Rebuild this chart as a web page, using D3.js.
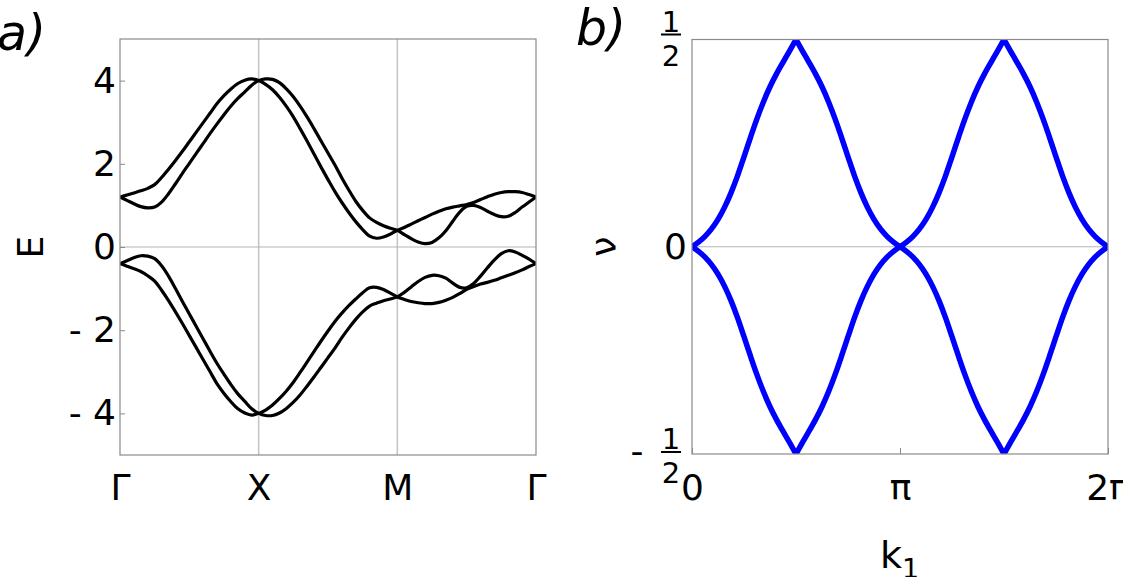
<!DOCTYPE html>
<html><head><meta charset="utf-8">
<script src="https://cdn.jsdelivr.net/npm/d3@7"></script>
<style>
body{margin:0;background:#fff}
svg{display:block}
text{font-family:"DejaVu Sans",sans-serif;fill:#000}
</style>
</head><body>
<svg id="c" width="1123" height="577"></svg>
<script>
// ---------- Panel a data: band structure along Γ–X–M–Γ ----------
const pathPos = [0,0.05,0.1,0.15,0.2,0.25,0.3,0.35,0.4,0.45,0.5,0.55,0.6,0.65,0.7,0.75,0.8,0.85,0.9,0.95,1,
  1.05,1.1,1.15,1.2,1.25,1.3,1.35,1.4,1.45,1.5,1.55,1.6,1.65,1.7,1.75,1.8,1.85,1.9,1.95,2,
  2.05,2.1,2.15,2.2,2.25,2.3,2.35,2.4,2.45,2.5,2.55,2.6,2.65,2.7,2.75,2.8,2.85,2.9,2.95,3];
const bandUpperA = [1.20,1.25,1.30,1.35,1.41,1.50,1.67,1.87,2.08,2.30,2.53,2.76,2.99,3.22,3.45,3.64,3.80,3.93,4.01,4.04,4.00,
  3.91,3.78,3.60,3.38,3.13,2.84,2.54,2.23,1.92,1.62,1.33,1.07,0.83,0.61,0.42,0.26,0.21,0.24,0.31,0.40,
  0.47,0.55,0.63,0.71,0.79,0.86,0.92,0.96,0.99,1.02,1.07,1.14,1.21,1.27,1.31,1.33,1.33,1.31,1.26,1.20];
const bandUpperB = [1.20,1.12,1.04,0.97,0.94,0.96,1.08,1.28,1.52,1.77,2.01,2.25,2.49,2.73,2.96,3.18,3.39,3.57,3.73,3.89,4.00,
  4.04,4.03,3.95,3.80,3.61,3.38,3.12,2.84,2.55,2.26,1.97,1.66,1.37,1.10,0.88,0.70,0.59,0.51,0.45,0.40,
  0.30,0.20,0.12,0.08,0.11,0.22,0.39,0.62,0.84,0.98,1.00,0.95,0.86,0.78,0.73,0.74,0.83,0.96,1.08,1.20];
const bandLowerA = [-0.40,-0.46,-0.52,-0.59,-0.69,-0.82,-1.04,-1.29,-1.56,-1.84,-2.13,-2.42,-2.71,-3.00,-3.29,-3.52,-3.72,-3.89,-3.99,-4.04,-4.00,
  -3.92,-3.80,-3.64,-3.46,-3.25,-3.01,-2.76,-2.51,-2.26,-2.02,-1.79,-1.59,-1.41,-1.25,-1.10,-0.98,-0.97,-1.02,-1.11,-1.20,
  -1.26,-1.31,-1.34,-1.36,-1.36,-1.33,-1.28,-1.21,-1.12,-1.02,-0.95,-0.89,-0.85,-0.80,-0.74,-0.68,-0.62,-0.55,-0.47,-0.40];
const bandLowerB = [-0.40,-0.33,-0.26,-0.21,-0.22,-0.28,-0.45,-0.70,-1.00,-1.31,-1.61,-1.91,-2.21,-2.51,-2.80,-3.06,-3.31,-3.53,-3.71,-3.89,-4.00,
  -4.05,-4.05,-3.99,-3.88,-3.73,-3.55,-3.34,-3.12,-2.89,-2.66,-2.43,-2.18,-1.95,-1.74,-1.56,-1.42,-1.35,-1.29,-1.25,-1.20,
  -1.09,-0.96,-0.83,-0.73,-0.68,-0.69,-0.75,-0.87,-0.97,-0.98,-0.88,-0.70,-0.50,-0.31,-0.16,-0.09,-0.12,-0.20,-0.29,-0.40];
const pathTicks = [0,1,2,3];
const pathLabels = ["Γ","X","M","Γ"];
const eTicks = [4,2,0,-2,-4];
const eTickLabels = ["4","2","0","- 2","- 4"];

// ---------- Panel b data: ν versus k1 (k1 in units of π) ----------
const kOverPi = [0,0.03125,0.0625,0.09375,0.125,0.15625,0.1875,0.21875,0.25,0.28125,0.3125,0.34375,0.375,0.40625,0.4375,0.46875,0.5,
  0.53125,0.5625,0.59375,0.625,0.65625,0.6875,0.71875,0.75,0.78125,0.8125,0.84375,0.875,0.90625,0.9375,0.96875,1,
  1.03125,1.0625,1.09375,1.125,1.15625,1.1875,1.21875,1.25,1.28125,1.3125,1.34375,1.375,1.40625,1.4375,1.46875,1.5,
  1.53125,1.5625,1.59375,1.625,1.65625,1.6875,1.71875,1.75,1.78125,1.8125,1.84375,1.875,1.90625,1.9375,1.96875,2];
const nuUpper = [0,0.011,0.025,0.043,0.066,0.095,0.130,0.171,0.217,0.264,0.309,0.350,0.386,0.417,0.445,0.472,0.5,
  0.472,0.445,0.417,0.386,0.350,0.309,0.264,0.217,0.171,0.130,0.095,0.066,0.043,0.025,0.011,0,
  0.011,0.025,0.043,0.066,0.095,0.130,0.171,0.217,0.264,0.309,0.350,0.386,0.417,0.445,0.472,0.5,
  0.472,0.445,0.417,0.386,0.350,0.309,0.264,0.217,0.171,0.130,0.095,0.066,0.043,0.025,0.011,0];
const nuLower = [0,-0.011,-0.025,-0.043,-0.066,-0.095,-0.130,-0.171,-0.217,-0.264,-0.309,-0.350,-0.386,-0.417,-0.445,-0.472,-0.5,
  -0.472,-0.445,-0.417,-0.386,-0.350,-0.309,-0.264,-0.217,-0.171,-0.130,-0.095,-0.066,-0.043,-0.025,-0.011,0,
  -0.011,-0.025,-0.043,-0.066,-0.095,-0.130,-0.171,-0.217,-0.264,-0.309,-0.350,-0.386,-0.417,-0.445,-0.472,-0.5,
  -0.472,-0.445,-0.417,-0.386,-0.350,-0.309,-0.264,-0.217,-0.171,-0.130,-0.095,-0.066,-0.043,-0.025,-0.011,0];
const kTicks = [0,1,2];
const kTickLabels = ["0","π","2π"];

// ---------- drawing ----------
const FONT = '"DejaVu Sans", sans-serif';
const svg = d3.select("#c");
svg.append("rect").attr("width",1123).attr("height",577).attr("fill","#fff");
const defs = svg.append("defs");

function styleAxisText(g, size){
  g.selectAll("text").attr("font-size",size).attr("font-family",FONT).attr("fill","#000");
  g.select(".domain").remove();
  g.selectAll(".tick line").attr("stroke","#8a8a8a").attr("stroke-width",1);
}

// ===== Panel a =====
const xA = d3.scaleLinear().domain([0,3]).range([120,536]);
const yA = d3.scaleLinear().domain([-5,5]).range([455,39]);
defs.append("clipPath").attr("id","clipA").append("rect")
  .attr("x",xA(0)).attr("y",yA(5)).attr("width",xA(3)-xA(0)).attr("height",yA(-5)-yA(5));

const gA = svg.append("g");
gA.selectAll("line.vg").data([1,2]).join("line").attr("class","vg")
  .attr("x1",d=>xA(d)).attr("x2",d=>xA(d)).attr("y1",yA(5)).attr("y2",yA(-5))
  .attr("stroke","#c6c6c6").attr("stroke-width",1.6);
gA.append("line").attr("x1",xA(0)).attr("x2",xA(3)).attr("y1",yA(0)).attr("y2",yA(0))
  .attr("stroke","#b4b4b4").attr("stroke-width",1.1);

const lineA = d3.line().x((d,i)=>xA(pathPos[i])).y(d=>yA(d)).curve(d3.curveCatmullRom);
const gBands = gA.append("g").attr("clip-path","url(#clipA)");
gBands.selectAll("path").data([bandUpperA,bandUpperB,bandLowerA,bandLowerB]).join("path")
  .attr("d",lineA).attr("fill","none").attr("stroke","#000").attr("stroke-width",3.2)
  .attr("stroke-linejoin","round");

gA.append("g").attr("transform",`translate(${xA(0)},0)`)
  .call(d3.axisLeft(yA).tickValues(eTicks).tickFormat((d,i)=>eTickLabels[i]).tickSize(-5).tickPadding(4))
  .call(g=>styleAxisText(g,36));
gA.append("g").attr("transform",`translate(0,${yA(-5)})`)
  .call(d3.axisBottom(xA).tickValues(pathTicks).tickFormat((d,i)=>pathLabels[i]).tickSize(0).tickPadding(19))
  .call(g=>styleAxisText(g,36));
gA.append("rect").attr("x",xA(0)).attr("y",yA(5)).attr("width",xA(3)-xA(0)).attr("height",yA(-5)-yA(5))
  .attr("fill","none").attr("stroke","#8a8a8a").attr("stroke-width",1.2);

svg.append("text").attr("transform",`translate(43,${yA(0)}) rotate(-90)`)
  .attr("text-anchor","middle").attr("font-size",36).text("E");
svg.append("text").attr("x",-3).attr("y",50).attr("font-size",49).attr("font-style","italic").text("a)");

// ===== Panel b =====
const xB = d3.scaleLinear().domain([0,2]).range([692,1108]);
const yB = d3.scaleLinear().domain([-0.5,0.5]).range([454,39.5]);
defs.append("clipPath").attr("id","clipB").append("rect")
  .attr("x",xB(0)).attr("y",yB(0.5)).attr("width",xB(2)-xB(0)).attr("height",yB(-0.5)-yB(0.5));

const gB = svg.append("g");
gB.append("line").attr("x1",xB(0)).attr("x2",xB(2)).attr("y1",yB(0)).attr("y2",yB(0))
  .attr("stroke","#b4b4b4").attr("stroke-width",1.1);

// split each series at its cusps into monotone pieces so the cusps stay sharp
function monotonePieces(vals){
  const pieces = []; let start = 0;
  for (let i=1;i<vals.length-1;i++){
    const a = vals[i]-vals[i-1], b = vals[i+1]-vals[i];
    if (a*b < 0){ pieces.push(d3.range(start,i+1)); start = i; }
  }
  pieces.push(d3.range(start,vals.length));
  return pieces.map(idx=>idx.map(i=>[kOverPi[i],vals[i]]));
}
const lineB = d3.line().x(d=>xB(d[0])).y(d=>yB(d[1])).curve(d3.curveMonotoneX);
const gNu = gB.append("g").attr("clip-path","url(#clipB)");
[nuUpper,nuLower].forEach(series=>{
  gNu.selectAll(null).data(monotonePieces(series)).join("path")
    .attr("d",lineB).attr("fill","none").attr("stroke","#0000ff").attr("stroke-width",5.5)
    .attr("stroke-linejoin","round").attr("stroke-linecap","round");
});

gB.append("g").attr("transform",`translate(0,${yB(-0.5)})`)
  .call(d3.axisBottom(xB).tickValues(kTicks).tickFormat((d,i)=>kTickLabels[i]).tickSize(-6).tickPadding(20))
  .call(g=>styleAxisText(g,36));
gB.append("rect").attr("x",xB(0)).attr("y",yB(0.5)).attr("width",xB(2)-xB(0)).attr("height",yB(-0.5)-yB(0.5))
  .attr("fill","none").attr("stroke","#8a8a8a").attr("stroke-width",1.2);

const nuTicks = [0.5,0,-0.5];
const fracX = 671;
nuTicks.forEach(v=>{
  const y = yB(v);
  if (v===0){
    gB.append("text").attr("x",687).attr("y",y).attr("dy","0.35em").attr("text-anchor","end")
      .attr("font-size",36).text("0");
  } else {
    const bar = v>0 ? y-5 : y-2;
    gB.append("text").attr("x",fracX).attr("y",bar-3).attr("text-anchor","middle").attr("font-size",29).text("1");
    gB.append("line").attr("x1",fracX-10).attr("x2",fracX+10).attr("y1",bar).attr("y2",bar)
      .attr("stroke","#000").attr("stroke-width",2);
    gB.append("text").attr("x",fracX).attr("y",bar+31).attr("text-anchor","middle").attr("font-size",29).text("2");
    if (v<0){
      gB.append("text").attr("x",637).attr("y",bar+11).attr("text-anchor","middle").attr("font-size",36).text("-");
    }
  }
});

svg.append("text").attr("transform",`translate(616,${yB(0)}) rotate(-90)`)
  .attr("text-anchor","middle").attr("font-size",36).text("ν");
const kl = svg.append("text").attr("x",880).attr("y",568).attr("font-size",38);
kl.append("tspan").text("k");
kl.append("tspan").attr("font-size",27).attr("dy",10).text("1");
svg.append("text").attr("x",576).attr("y",45).attr("font-size",49).attr("font-style","italic").text("b)");
</script>
</body></html>
